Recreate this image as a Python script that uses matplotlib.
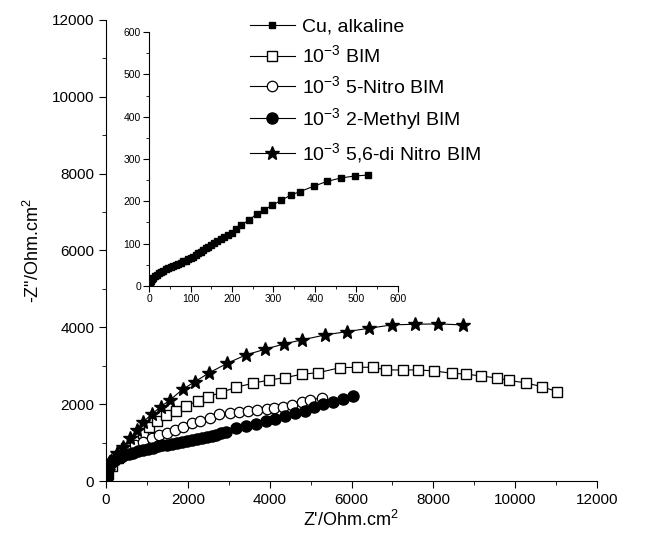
import numpy as np
import matplotlib
matplotlib.use("Agg")
import matplotlib.pyplot as plt
from matplotlib.ticker import MultipleLocator

plt.rcParams['font.family'] = ['Liberation Sans', 'DejaVu Sans']
plt.rcParams['mathtext.fontset'] = 'custom'
plt.rcParams['mathtext.rm'] = 'Liberation Sans'
plt.rcParams['mathtext.it'] = 'Liberation Sans:italic'

# Cu, alkaline (inset)
cu_x = [0, 2, 4, 7, 10, 14, 18, 23, 28, 34, 40, 46, 52, 58, 64, 70, 76, 82, 88, 94,
        100, 106, 112, 118, 124, 130, 136, 142, 149, 156, 164, 172, 180, 189, 199,
        209, 221, 242, 259, 278, 297, 318, 342, 364, 398, 429, 462, 497, 529]
cu_y = [0, 6, 11, 16, 20, 24, 27, 30, 33, 36, 39, 42, 44, 47, 50, 52, 55, 58, 60, 63,
        66, 69, 73, 77, 81, 85, 89, 93, 97, 101, 106, 111, 115, 120, 126,
        134, 144, 156, 170, 180, 191, 202, 215, 223, 236, 247, 255, 260, 262]

# 1e-3 BIM
bim_x = [0, 10, 50, 150, 300, 500, 700, 900, 1059, 1254, 1467, 1711, 1956, 2257, 2501,
         2800, 3178, 3587, 3993, 4377, 4785, 5191, 5721, 6129, 6521, 6846, 7269, 7636,
         8020, 8452, 8802, 9169, 9548, 9861, 10269, 10648, 11034]
bim_y = [0, 50, 180, 380, 600, 850, 1050, 1250, 1414, 1570, 1719, 1831, 1953, 2091, 2196,
         2300, 2440, 2544, 2630, 2690, 2780, 2820, 2950, 2961, 2961, 2891, 2891, 2891,
         2865, 2805, 2781, 2734, 2682, 2617, 2552, 2456, 2326]

# 1e-3 5-Nitro BIM
nitro_x = [0, 20, 50, 100, 170, 250, 350, 506, 709, 912, 1117, 1303, 1484, 1687, 1890,
           2095, 2298, 2530, 2770, 3032, 3259, 3479, 3699, 3929, 4108, 4320, 4540, 4785,
           4988, 5274]
nitro_y = [0, 200, 350, 480, 580, 660, 740, 807, 938, 1023, 1112, 1198, 1258, 1328, 1414,
           1503, 1570, 1645, 1740, 1763, 1789, 1823, 1849, 1875, 1893, 1935, 1979, 2065,
           2109, 2170]

# 1e-3 2-Methyl BIM
methyl_x = [0, 10, 30, 60, 100, 150, 210, 280, 360, 450, 550, 660, 780, 900, 1020, 1140,
            1260, 1380, 1500, 1620, 1740, 1860, 1980, 2100, 2220, 2340, 2460, 2580, 2700,
            2820, 2940, 3180, 3420, 3660, 3900, 4140, 4380, 4620, 4860, 5080, 5300, 5540,
            5780, 6040]
methyl_y = [0, 200, 300, 380, 440, 500, 550, 590, 630, 670, 705, 740, 775, 810, 840, 870,
            900, 925, 950, 975, 1000, 1025, 1050, 1075, 1100, 1125, 1150, 1180, 1210,
            1245, 1285, 1380, 1440, 1490, 1550, 1610, 1680, 1760, 1830, 1930, 2000, 2065,
            2135, 2214]

# 1e-3 5,6-di Nitro BIM
dinitro_x = [0, 10, 40, 98, 262, 423, 587, 750, 912, 1117, 1337, 1565, 1875, 2176, 2526,
             2966, 3416, 3888, 4352, 4785, 5355, 5885, 6437, 6985, 7555, 8125, 8721]
dinitro_y = [0, 60, 250, 503, 721, 893, 1112, 1328, 1544, 1737, 1935, 2109, 2388, 2586,
             2820, 3065, 3281, 3430, 3568, 3672, 3802, 3888, 3977, 4063, 4081, 4089, 4063]

labels = ['Cu, alkaline', '10$^{-3}$ BIM', '10$^{-3}$ 5-Nitro BIM',
          '10$^{-3}$ 2-Methyl BIM', '10$^{-3}$ 5,6-di Nitro BIM']

fig = plt.figure(figsize=(6.48, 5.52), dpi=100)
ax = fig.add_axes([0.1636, 0.1286, 0.7577, 0.8352])

lkw = dict(color='black', lw=0.8)
h_bim, = ax.plot(bim_x, bim_y, marker='s', ms=6.5, mfc='white', mec='black', mew=1.0, **lkw)
h_nit, = ax.plot(nitro_x, nitro_y, marker='o', ms=7.5, mfc='white', mec='black', mew=0.9, **lkw)
h_met, = ax.plot(methyl_x, methyl_y, marker='o', ms=8, mfc='black', mec='black', **lkw)
h_din, = ax.plot(dinitro_x, dinitro_y, marker='*', ms=10, mfc='black', mec='black', **lkw)

ax.set_xlim(0, 12000)
ax.set_ylim(0, 12000)
ax.xaxis.set_major_locator(MultipleLocator(2000))
ax.xaxis.set_minor_locator(MultipleLocator(1000))
ax.yaxis.set_major_locator(MultipleLocator(2000))
ax.yaxis.set_minor_locator(MultipleLocator(1000))
for s in ['top', 'right']:
    ax.spines[s].set_visible(False)
ax.tick_params(which='major', direction='out', length=5, labelsize=11)
ax.tick_params(which='minor', direction='out', length=3)
ax.set_xlabel("Z'/Ohm.cm$^2$", fontsize=13, labelpad=2)
ax.set_ylabel('-Z"/Ohm.cm$^2$', fontsize=13, labelpad=6)

# inset
ins = fig.add_axes([0.2304, 0.4819, 0.3833, 0.4601])
h_cu, = ins.plot(cu_x, cu_y, marker='s', ms=5, mfc='black', mec='black', **lkw)
ins.set_xlim(0, 600)
ins.set_ylim(0, 600)
ins.xaxis.set_major_locator(MultipleLocator(100))
ins.xaxis.set_minor_locator(MultipleLocator(50))
ins.yaxis.set_major_locator(MultipleLocator(100))
ins.yaxis.set_minor_locator(MultipleLocator(50))
for s in ['top', 'right']:
    ins.spines[s].set_visible(False)
ins.patch.set_alpha(0)
ins.tick_params(which='major', direction='out', length=4, labelsize=7.5, pad=2)
ins.tick_params(which='minor', direction='out', length=2)

fig.legend([h_cu, h_bim, h_nit, h_met, h_din], labels, loc='upper left',
           bbox_to_anchor=(250 / 648, 1 - 18 / 552), frameon=False, fontsize=14,
           borderaxespad=0, borderpad=0, handlelength=2.3, handletextpad=0.35,
           labelspacing=0.46, markerscale=1.0)

fig.savefig('out.png', dpi=100)
